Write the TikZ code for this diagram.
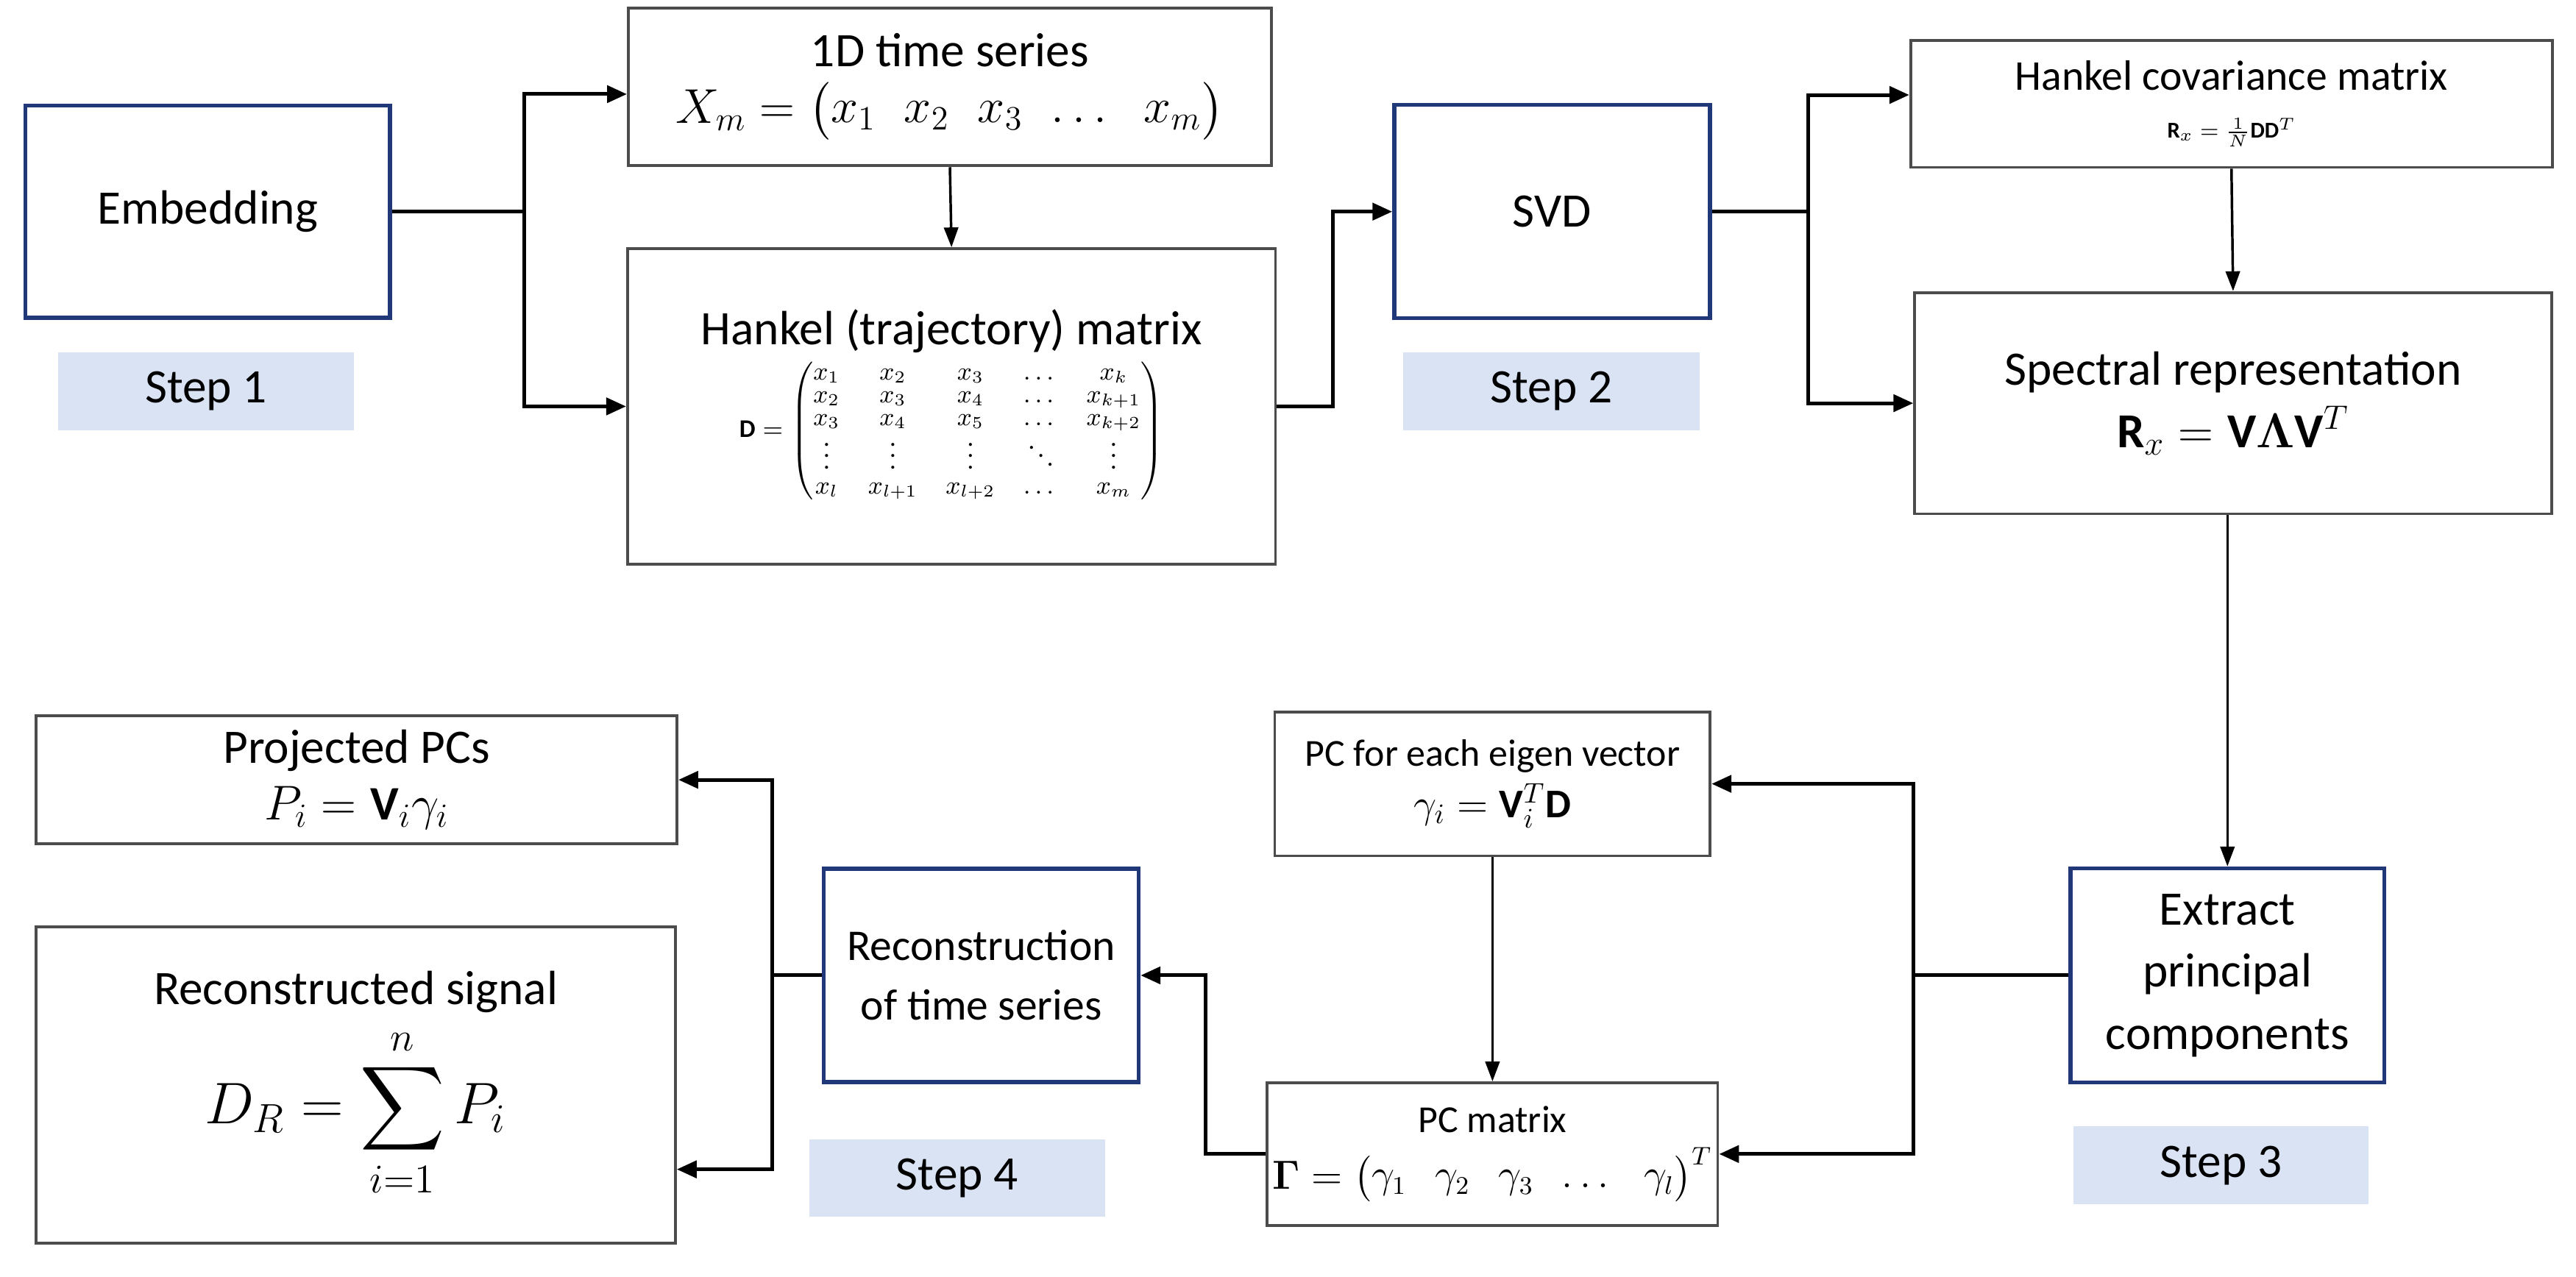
\documentclass[tikz,border=0pt]{standalone}
\usepackage{amsmath}
\usepackage{amssymb}
\usepackage{bm}
\usepackage{fontspec}
\setmainfont{Carlito}
\usetikzlibrary{arrows.meta}

\definecolor{stepfill}{RGB}{218,227,243}
\definecolor{stepblue}{RGB}{32,56,120}

\tikzset{
    box/.style={draw=black!70, line width=1pt, align=center, inner sep=2pt},
    bluebox/.style={draw=stepblue, line width=1.4pt, align=center, font=\fontsize{17}{22}\selectfont},
    steplabel/.style={fill=stepfill, align=center, font=\fontsize{17}{19}\selectfont},
    link/.style={black, line width=1.3pt},
    arr/.style={black, line width=1.3pt, -{Triangle[length=7pt,width=6pt]}},
    thinarr/.style={black, line width=0.9pt, -{Triangle[length=7pt,width=5pt]}}
}

\begin{document}
\begin{tikzpicture}
        \useasboundingbox (0,0) rectangle (32,15.86);
        % step 1
        \node[bluebox, minimum width=4.53cm, minimum height=2.64cm] (emb) at (2.58,13.23) {Embedding};
        \node[steplabel, minimum width=3.67cm, minimum height=0.97cm] (step1) at (2.56,11.0) {Step 1};
        \node[box, minimum width=7.99cm, minimum height=1.96cm, font=\fontsize{17}{20}\selectfont] (ts) at (11.8,14.78)
            {1D time series\\ $X_m=\begin{pmatrix}x_1 & x_2 & x_3 & \dots & x_m\end{pmatrix}$};
        \node[box, minimum width=8.05cm, minimum height=3.92cm, font=\fontsize{17}{20}\selectfont] (hank) at (11.82,10.81)
            {Hankel (trajectory) matrix\\[1pt] \small $\mathbf{D}=\begin{pmatrix}
            x_1 & x_2 & x_3 & \dots & x_k\\[-3pt]
            x_2 & x_3 & x_4 & \dots & x_{k+1}\\[-3pt]
            x_3 & x_4 & x_5 & \dots & x_{k+2}\\[-3pt]
            \vdots & \vdots & \vdots & \ddots & \vdots\\[-2pt]
            x_l & x_{l+1} & x_{l+2} & \dots & x_m
            \end{pmatrix}$};
        % step 2
        \node[bluebox, minimum width=3.92cm, minimum height=2.65cm] (svd) at (19.28,13.23) {SVD};
        \node[steplabel, minimum width=3.68cm, minimum height=0.97cm] (step2) at (19.27,11.0) {Step 2};
        \node[box, minimum width=7.97cm, minimum height=1.58cm, font=\fontsize{15}{17}\selectfont] (cov) at (27.72,14.57)
            {Hankel covariance matrix\\ \footnotesize $\mathbf{R}_{x}=\frac{1}{N}\mathbf{D}\mathbf{D}^{T}$};
        \node[box, minimum width=7.91cm, minimum height=2.75cm, font=\fontsize{17}{22}\selectfont] (spec) at (27.74,10.85)
            {Spectral representation\\ \LARGE $\mathbf{R}_{x}=\mathbf{V}\bm{\Lambda}\mathbf{V}^{T}$};
        % step 3
        \node[bluebox, minimum width=3.9cm, minimum height=2.66cm] (ext) at (27.67,3.74) {Extract\\ principal\\ components};
        \node[steplabel, minimum width=3.67cm, minimum height=0.97cm] (step3) at (27.59,1.38) {Step 3};
        \node[box, minimum width=5.41cm, minimum height=1.79cm, font=\fontsize{13.5}{16}\selectfont] (pcv) at (18.54,6.12)
            {PC for each eigen vector\\[2pt] \Large $\gamma_i=\mathbf{V}_i^{T}\mathbf{D}$};
        \node[box, minimum width=5.41cm, minimum height=1.77cm, font=\fontsize{13.5}{16}\selectfont] (pcm) at (18.54,1.52)
            {PC matrix\\[4pt] $\bm{\Gamma}=\begin{pmatrix}\gamma_1 & \gamma_2 & \gamma_3 & \dots & \gamma_l\end{pmatrix}^{T}$};
        % step 4
        \node[bluebox, minimum width=3.91cm, minimum height=2.65cm, font=\fontsize{15.5}{21}\selectfont] (rec) at (12.19,3.74) {Reconstruction\\ of time series};
        \node[steplabel, minimum width=3.67cm, minimum height=0.96cm] (step4) at (11.89,1.22) {Step 4};
        \node[box, minimum width=7.96cm, minimum height=1.59cm, font=\fontsize{17}{20}\selectfont] (proj) at (4.43,6.17)
            {Projected PCs\\ $P_i=\mathbf{V}_i\gamma_i$};
        \node[box, minimum width=7.94cm, minimum height=3.93cm, font=\fontsize{17}{20}\selectfont] (sig) at (4.42,2.38)
            {Reconstructed signal\\[4pt] \huge $\displaystyle D_R=\sum_{i=1}^{n}P_i$};

        % junctions
        \coordinate (jA) at (6.51,13.23);
        \coordinate (jB) at (16.56,13.23);
        \coordinate (jC) at (22.46,13.23);
        \coordinate (jD) at (23.77,3.74);
        \coordinate (jE) at (14.98,3.74);
        \coordinate (jF) at (9.59,3.74);

        % connectors
        \draw[link] (emb.east) -- (jA);
        \draw[arr] (jA) |- ([yshift=-0.09cm]ts.west);
        \draw[arr] (jA) |- (hank.west);
        \draw[thinarr] (ts.south) -- (hank.north);
        \draw[arr] (hank.east) -| (jB) -- (svd.west);
        \draw[link] (svd.east) -- (jC);
        \draw[arr] (jC) |- ([yshift=0.11cm]cov.west);
        \draw[arr] (jC) |- (spec.west);
        \draw[thinarr] (cov.south) -- (spec.north);
        \draw[thinarr] (spec.south -| ext.north) -- (ext.north);
        \draw[link] (ext.west) -- (jD);
        \draw[arr] (jD) |- (pcv.east);
        \draw[arr] (jD) |- (pcm.east);
        \draw[thinarr] (pcv.south) -- (pcm.north);
        \draw[arr] (pcm.west) -| (jE) |- (rec.east);
        \draw[link] (rec.west) -- (jF);
        \draw[arr] (jF) |- (proj.east);
        \draw[arr] (jF) |- ([yshift=-1.05cm]sig.east);
    \end{tikzpicture}
\end{document}
